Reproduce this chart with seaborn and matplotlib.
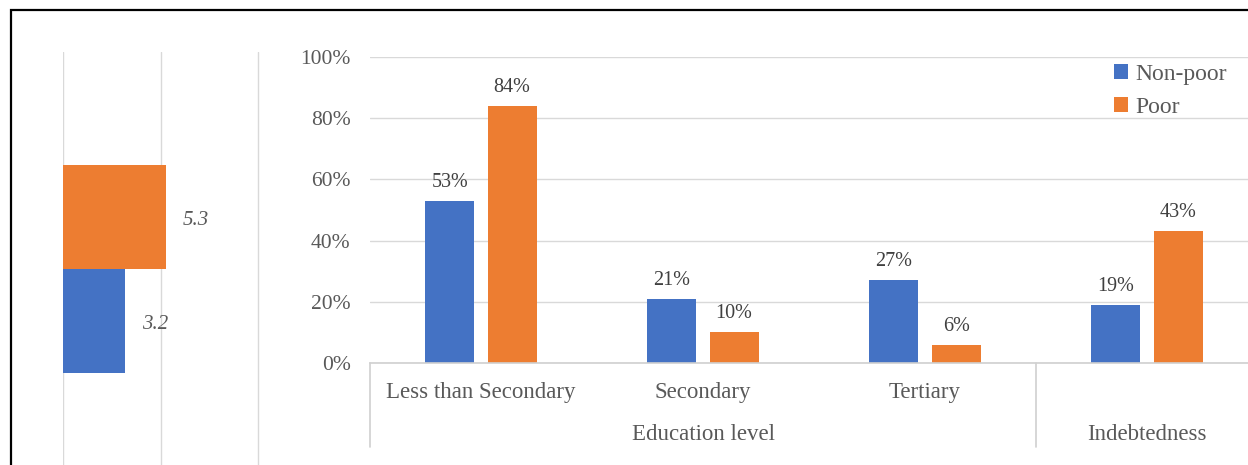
import matplotlib
matplotlib.use("Agg")
import matplotlib.pyplot as plt
import matplotlib.transforms as mtransforms
from matplotlib.patches import Rectangle
import seaborn as sns
import pandas as pd

# ---------------- data ----------------
categories = ["Less than Secondary", "Secondary", "Tertiary", "Indebtedness"]
tick_labels = ["Less than Secondary", "Secondary", "Tertiary", ""]
groups = ["Non-poor", "Poor"]
non_poor = [0.53, 0.21, 0.27, 0.19]
poor = [0.84, 0.10, 0.06, 0.43]
group_labels = ["Education level", "Indebtedness"]
group_centers = [1.0, 3.0]
separators = [-0.5, 2.5]
y_ticks = [0.0, 0.2, 0.4, 0.6, 0.8, 1.0]

left_category = ["Mean"]
left_non_poor = [3.2]
left_poor = [5.3]
left_grid = [0, 5, 10]

palette = {"Non-poor": "#4472C4", "Poor": "#ED7D31"}
TEXT = "#595959"

sns.set_theme(style="white")
plt.rcParams["font.family"] = ["Liberation Serif", "DejaVu Serif"]

W, H = 1248, 465
fig = plt.figure(figsize=(W / 100, H / 100), dpi=100)

# ---------------- left panel ----------------
ax1 = fig.add_axes([63 / W, (H - 486) / H, 199.5 / W, 434 / H])
df_left = pd.DataFrame({
    "cat": left_category * 2,
    "group": ["Poor"] * len(left_poor) + ["Non-poor"] * len(left_non_poor),
    "value": left_poor + left_non_poor,
})
sns.barplot(data=df_left, y="cat", x="value", hue="group",
            hue_order=["Poor", "Non-poor"], palette=palette, orient="h",
            width=0.8, saturation=1, linewidth=0, legend=False, ax=ax1)
ax1.set_xlim(0, 10.23)
ax1.set_ylim(0.835, -0.835)
ax1.set_xticks(left_grid)
ax1.set_xticklabels([])
ax1.set_yticks([])
ax1.set_xlabel("")
ax1.set_ylabel("")
ax1.grid(axis="x", color="#d9d9d9", linewidth=1)
ax1.tick_params(length=0)
for s in ax1.spines.values():
    s.set_visible(False)
for c in ax1.containers:
    texts = ax1.bar_label(c, fmt="%.1f", padding=12, fontsize=15, color=TEXT,
                          fontstyle="italic")
    for t in texts:
        t.xyann = (t.xyann[0], t.xyann[1] - 2.2)

# ---------------- right panel ----------------
ax2 = fig.add_axes([370 / W, (H - 363) / H, 888 / W, 306 / H])
df = pd.DataFrame({
    "category": categories * 2,
    "group": ["Non-poor"] * len(categories) + ["Poor"] * len(categories),
    "value": non_poor + poor,
})
sns.barplot(data=df, x="category", y="value", hue="group", order=categories,
            hue_order=groups, palette=palette, width=0.56, gap=0.21,
            saturation=1, linewidth=0, ax=ax2)
ax2.set_xlim(-0.5, len(categories) - 0.5)
ax2.set_ylim(0, 1)
ax2.set_yticks(y_ticks)
ax2.set_yticklabels([f"{v * 100:.0f}%" for v in y_ticks])
ax2.set_xticks(range(len(categories)))
ax2.set_xticklabels(tick_labels)
ax2.set_xlabel("")
ax2.set_ylabel("")
ax2.grid(axis="y", color="#d9d9d9", linewidth=1)
ax2.set_axisbelow(True)
ax2.tick_params(axis="y", length=0, pad=14, labelsize=15.5, labelcolor=TEXT)
ax2.tick_params(axis="x", length=0, pad=14, labelsize=16.5, labelcolor=TEXT)
for k, s in ax2.spines.items():
    s.set_visible(k == "bottom")
ax2.spines["bottom"].set_color("#d0d0d0")
ax2.spines["bottom"].set_linewidth(1.2)

for c in ax2.containers:
    ax2.bar_label(c, labels=[f"{b.get_height() * 100:.0f}%" for b in c],
                  padding=6.5, fontsize=14.5, color="#404040")

trans = mtransforms.blended_transform_factory(ax2.transData, ax2.transAxes)
for xs in separators:
    ax2.plot([xs, xs], [0, -0.275], transform=trans, clip_on=False,
             color="#d0d0d0", linewidth=1.2)
for xc, lab in zip(group_centers, group_labels):
    ax2.text(xc, -0.235, lab, transform=trans, ha="center", va="center",
             fontsize=16.5, color=TEXT)

handles, labels = ax2.get_legend_handles_labels()
ax2.legend(handles, labels, loc="upper left",
           bbox_to_anchor=(1114 / W, 1 - 64 / H), bbox_transform=fig.transFigure,
           frameon=False, fontsize=17, handlelength=0.6, handleheight=0.6,
           handletextpad=0.3, labelspacing=0.5, borderpad=0, borderaxespad=0,
           labelcolor=TEXT)

# outer frame (cropped on right and bottom)
fig.add_artist(Rectangle((10.5 / W, -0.1), 1.2, (H - 10.5) / H + 0.1,
                         transform=fig.transFigure, fill=False,
                         edgecolor="black", linewidth=1.6, clip_on=False))

fig.savefig("out.png", dpi=100)
